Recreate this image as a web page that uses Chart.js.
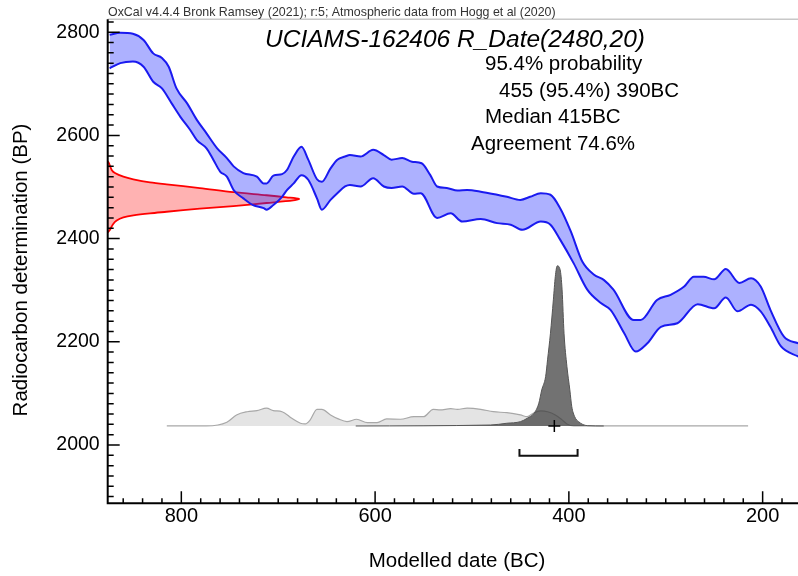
<!DOCTYPE html>
<html>
<head>
<meta charset="utf-8">
<script src="https://cdn.jsdelivr.net/npm/chart.js@4.4.1/dist/chart.umd.min.js"></script>
<style>
  html, body { margin: 0; padding: 0; background: #fff; }
  #wrap { width: 798px; height: 576px; }
</style>
</head>
<body>
<div id="wrap"><canvas id="chart" width="798" height="576"></canvas></div>
<script>
// calibration curve band (cal BC -> BP)
const upperYears = [874, 863, 850, 839, 829, 820, 813, 805, 794, 784, 774, 763, 753, 746, 736, 722, 715, 712, 705, 696, 691, 684, 676, 669, 660, 655, 646, 639, 631, 626, 615, 602, 591, 583, 572, 562, 552, 543, 536, 526, 515, 505, 491, 474, 464, 450, 440, 429, 419, 409, 398, 386, 374, 364, 354, 333, 326, 309, 295, 281, 271, 261, 250, 238, 224, 212, 202, 192, 178, 163];
const upperBP = [2795, 2799, 2797, 2785, 2759, 2750, 2733, 2691, 2662, 2630, 2604, 2575, 2556, 2540, 2527, 2520, 2507, 2507, 2522, 2525, 2533, 2559, 2578, 2553, 2515, 2510, 2536, 2553, 2559, 2562, 2559, 2572, 2562, 2553, 2556, 2549, 2546, 2523, 2501, 2498, 2493, 2494, 2491, 2485, 2481, 2475, 2481, 2488, 2485, 2459, 2414, 2355, 2330, 2320, 2301, 2242, 2242, 2281, 2291, 2307, 2326, 2326, 2321, 2341, 2314, 2323, 2307, 2262, 2210, 2197];
const lowerYears = [874, 863, 850, 839, 829, 820, 810, 801, 791, 784, 774, 767, 760, 753, 746, 736, 726, 715, 712, 705, 696, 691, 684, 676, 669, 660, 655, 646, 639, 631, 626, 615, 602, 591, 583, 572, 560, 553, 536, 522, 510, 491, 474, 460, 448, 429, 419, 409, 395, 381, 367, 357, 343, 331, 319, 305, 288, 267, 250, 238, 226, 212, 202, 192, 181, 163];
const lowerBP = [2730, 2740, 2743, 2733, 2704, 2691, 2662, 2636, 2611, 2591, 2575, 2553, 2530, 2520, 2494, 2478, 2465, 2459, 2456, 2465, 2481, 2494, 2507, 2523, 2514, 2478, 2456, 2475, 2488, 2501, 2504, 2501, 2517, 2501, 2498, 2501, 2487, 2488, 2440, 2449, 2433, 2438, 2430, 2427, 2417, 2433, 2427, 2398, 2352, 2301, 2275, 2262, 2217, 2181, 2197, 2229, 2236, 2273, 2265, 2286, 2259, 2272, 2259, 2229, 2191, 2171];

// radiocarbon measurement R_Date(2480,20), relative density along BP
const likelihoodBP = [2550, 2546, 2533, 2527, 2520, 2515, 2509, 2505, 2498, 2490, 2484, 2480, 2477, 2474, 2469, 2463, 2458, 2452, 2449, 2445, 2441, 2435, 2427, 2417, 2412];
const likelihoodDensity = [0, 0.007, 0.021, 0.038, 0.082, 0.134, 0.221, 0.308, 0.482, 0.657, 0.831, 0.936, 1.0, 0.970, 0.831, 0.657, 0.482, 0.308, 0.221, 0.134, 0.082, 0.047, 0.026, 0.012, 0];

// unmodelled calibrated date (light grey)
const priorYears = [815, 774, 753, 743, 732, 722, 712, 705, 696, 686, 677, 672, 667, 660, 655, 646, 638, 629, 619, 608, 598, 588, 574, 560, 550, 540, 533, 522, 515, 505, 491, 478, 464, 450, 443, 436, 429, 422, 414, 407, 402, 395, 215];
const priorDensity = [0, 0, 0.023, 0.069, 0.089, 0.096, 0.111, 0.096, 0.089, 0.048, 0.017, 0.013, 0.038, 0.104, 0.104, 0.069, 0.044, 0.027, 0.042, 0.021, 0.021, 0.044, 0.042, 0.058, 0.058, 0.104, 0.1, 0.108, 0.104, 0.111, 0.104, 0.089, 0.083, 0.069, 0.058, 0.083, 0.094, 0.089, 0.069, 0.038, 0.0125, 0, 0];

// modelled date (dark grey)
const posteriorYears = [620, 481, 464, 450, 443, 436, 431, 428, 424, 422, 419, 416, 414, 412, 409, 407, 405, 402, 399, 397, 394, 390, 381, 364];
const posteriorDensity = [0, 0.006, 0.017, 0.027, 0.048, 0.079, 0.142, 0.225, 0.308, 0.413, 0.579, 0.788, 0.933, 1.0, 0.975, 0.85, 0.579, 0.371, 0.225, 0.121, 0.058, 0.027, 0.002, 0];

const rangeFrom = 451;
const rangeTo = 391;
const medianYear = 415;

const xTickValues = [800, 600, 400, 200];
const yTickValues = [2000, 2200, 2400, 2600, 2800];

const headerText = "OxCal v4.4.4 Bronk Ramsey (2021); r:5; Atmospheric data from Hogg et al (2020)";
const titleText = "UCIAMS-162406 R_Date(2480,20)";
const infoLines = ["95.4% probability", "455 (95.4%) 390BC", "Median 415BC", "Agreement 74.6%"];

const FONT = "'Liberation Sans', Arial, sans-serif";

function toPoints(xs, ys) {
  return xs.map((x, i) => ({ x, y: ys[i] }));
}

const bracketLevel = -0.186;
const bracketTip = -0.144;

const oxcalDecor = {
  id: "oxcalDecor",
  afterDraw(chart) {
    const { ctx, chartArea: a } = chart;
    const x = chart.scales.x;
    const y = chart.scales.y;
    ctx.save();

    // top frame line
    ctx.strokeStyle = "#c8c8c8";
    ctx.lineWidth = 1.5;
    ctx.beginPath();
    ctx.moveTo(a.left, a.top);
    ctx.lineTo(a.right, a.top);
    ctx.stroke();

    // axes
    ctx.strokeStyle = "#000";
    ctx.lineWidth = 2;
    ctx.beginPath();
    ctx.moveTo(a.left, a.top);
    ctx.lineTo(a.left, a.bottom);
    ctx.lineTo(a.right, a.bottom);
    ctx.stroke();

    // inward ticks
    ctx.lineWidth = 1.5;
    ctx.beginPath();
    for (let v = Math.ceil(y.min / 20) * 20; v <= y.max; v += 20) {
      const py = y.getPixelForValue(v);
      const len = v % 200 === 0 ? 12 : 6;
      ctx.moveTo(a.left, py);
      ctx.lineTo(a.left + len, py);
    }
    for (let v = Math.ceil(x.min / 20) * 20; v <= x.max; v += 20) {
      const px = x.getPixelForValue(v);
      const len = v % 200 === 0 ? 12 : 5;
      ctx.moveTo(px, a.bottom);
      ctx.lineTo(px, a.bottom - len);
    }
    ctx.stroke();

    // texts
    ctx.fillStyle = "#333";
    ctx.textAlign = "left";
    ctx.textBaseline = "alphabetic";
    ctx.font = "12.4px " + FONT;
    ctx.fillText(headerText, 108, 16);

    ctx.fillStyle = "#000";
    ctx.font = "italic 24.5px " + FONT;
    ctx.fillText(titleText, 265, 47);

    ctx.font = "20.5px " + FONT;
    const infoX = [485, 499, 485, 471];
    const infoY = [70, 96.7, 123, 149.5];
    infoLines.forEach((t, i) => ctx.fillText(t, infoX[i], infoY[i]));

    ctx.textAlign = "center";
    ctx.fillText("Modelled date (BC)", 457, 567);

    ctx.save();
    ctx.translate(27, 270);
    ctx.rotate(-Math.PI / 2);
    ctx.fillText("Radiocarbon determination (BP)", 0, 0);
    ctx.restore();

    ctx.restore();
  }
};

new Chart(document.getElementById("chart"), {
  type: "line",
  data: {
    datasets: [
      {
        label: "range",
        data: [
          { x: rangeFrom, y: bracketTip },
          { x: rangeFrom, y: bracketLevel },
          { x: rangeTo, y: bracketLevel },
          { x: rangeTo, y: bracketTip }
        ],
        xAxisID: "x",
        yAxisID: "yProb",
        borderColor: "#111",
        borderWidth: 2,
        pointRadius: 0,
        fill: false,
        tension: 0
      },
      {
        label: "median",
        data: [{ x: medianYear, y: 0 }],
        xAxisID: "x",
        yAxisID: "yProb",
        showLine: false,
        pointStyle: "cross",
        pointRadius: 6,
        borderColor: "#000",
        borderWidth: 1.5
      },
      {
        label: "posterior",
        data: toPoints(posteriorYears, posteriorDensity),
        xAxisID: "x",
        yAxisID: "yProb",
        borderColor: "#555",
        borderWidth: 1,
        backgroundColor: "rgba(60,60,60,0.72)",
        pointRadius: 0,
        fill: "origin",
        cubicInterpolationMode: "monotone"
      },
      {
        label: "prior",
        data: toPoints(priorYears, priorDensity),
        xAxisID: "x",
        yAxisID: "yProb",
        borderColor: "#a8a8a8",
        borderWidth: 1.2,
        backgroundColor: "rgba(225,225,225,0.9)",
        pointRadius: 0,
        fill: "origin",
        cubicInterpolationMode: "monotone"
      },
      {
        label: "curve upper",
        data: toPoints(upperYears, upperBP),
        xAxisID: "x",
        yAxisID: "y",
        borderColor: "#1a1af0",
        borderWidth: 2,
        pointRadius: 0,
        fill: false,
        cubicInterpolationMode: "monotone"
      },
      {
        label: "curve lower",
        data: toPoints(lowerYears, lowerBP),
        xAxisID: "x",
        yAxisID: "y",
        borderColor: "#1a1af0",
        borderWidth: 2,
        backgroundColor: "rgba(40,50,255,0.38)",
        pointRadius: 0,
        fill: "-1",
        cubicInterpolationMode: "monotone"
      },
      {
        label: "R_Date",
        data: toPoints(likelihoodDensity, likelihoodBP),
        xAxisID: "xProb",
        yAxisID: "y",
        borderColor: "#ff0000",
        borderWidth: 1.8,
        backgroundColor: "rgba(255,0,0,0.3)",
        pointRadius: 0,
        fill: "shape",
        tension: 0.3
      }
    ]
  },
  options: {
    responsive: false,
    animation: false,
    layout: { autoPadding: false, padding: { top: 19.3, left: 0, right: 0, bottom: 0 } },
    plugins: {
      legend: { display: false },
      tooltip: { enabled: false }
    },
    scales: {
      x: {
        type: "linear",
        position: "bottom",
        reverse: true,
        min: 163.5,
        max: 876,
        afterBuildTicks: s => { s.ticks = xTickValues.map(v => ({ value: v })); },
        afterFit: s => { s.height = 72.7; s.paddingLeft = 0; s.paddingRight = 0; },
        grid: { display: false, drawTicks: false },
        border: { display: false },
        ticks: {
          color: "#000",
          padding: 1,
          maxRotation: 0,
          font: { family: FONT, size: 20 },
          callback: v => String(v)
        }
      },
      y: {
        type: "linear",
        position: "left",
        min: 1887,
        max: 2825,
        afterBuildTicks: s => { s.ticks = yTickValues.map(v => ({ value: v })); },
        afterFit: s => { s.width = 107.7; s.paddingTop = 0; s.paddingBottom = 0; },
        grid: { display: false, drawTicks: false },
        border: { display: false },
        ticks: {
          color: "#000",
          padding: 8,
          font: { family: FONT, size: 19.5 },
          callback: v => String(v)
        }
      },
      xProb: {
        type: "linear",
        axis: "x",
        display: false,
        min: 0,
        max: 3.61
      },
      yProb: {
        type: "linear",
        axis: "y",
        display: false,
        min: -0.483,
        max: 2.54
      }
    }
  },
  plugins: [oxcalDecor]
});
</script>
</body>
</html>
